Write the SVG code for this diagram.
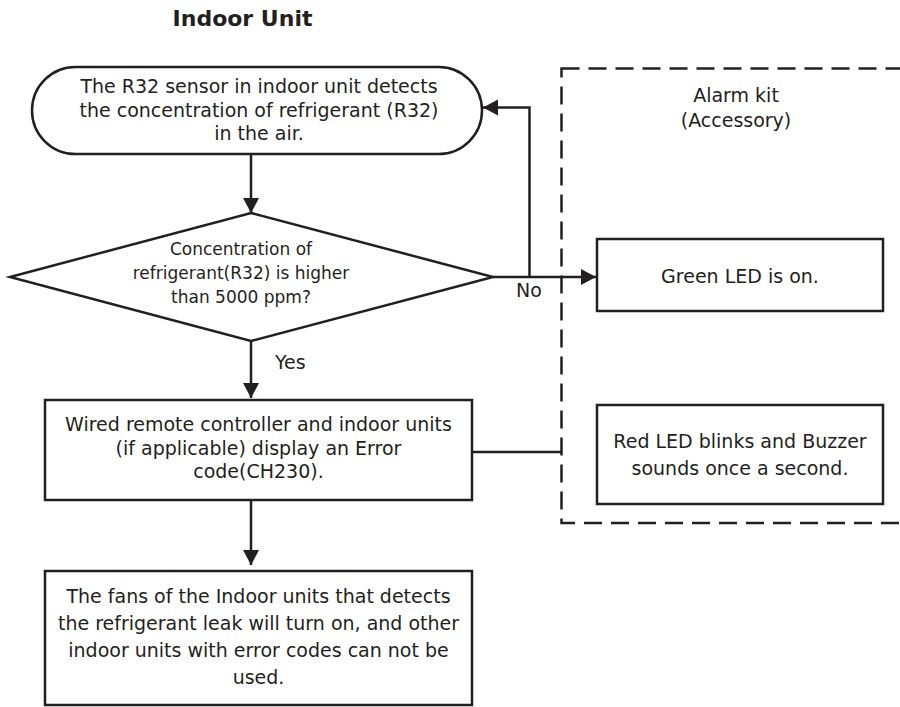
<svg xmlns="http://www.w3.org/2000/svg" width="900" height="707" viewBox="0 0 900 707">
<style>
  .shape { fill: #ffffff; stroke: #231f20; stroke-width: 2.5; }
  .line { fill: none; stroke: #231f20; stroke-width: 2.5; }
  .dash { fill: none; stroke: #231f20; stroke-width: 2.5; stroke-dasharray: 18 9; }
  text { font-family: "DejaVu Sans", "Liberation Sans", sans-serif; fill: #231f20; font-size: 19px; }
  .c { text-anchor: middle; }
  .title { font-weight: bold; font-size: 22px; }
  .small { font-size: 17px; }
</style>
<defs>
  <marker id="arrow" viewBox="0 0 15 16" refX="15" refY="8" markerWidth="15" markerHeight="16" markerUnits="userSpaceOnUse" orient="auto">
    <path d="M0,0 L15,8 L0,16 Z" fill="#231f20"/>
  </marker>
</defs>
<rect width="900" height="707" fill="#ffffff"/>

<text class="title c" x="242.5" y="26">Indoor Unit</text>

<g id="alarm-kit">
  <rect class="dash" x="561.5" y="68.5" width="360" height="454.5"/>
  <text class="c" x="736" y="102">Alarm kit</text>
  <text class="c" x="736" y="127">(Accessory)</text>
</g>

<g id="connectors">
  <line class="line" x1="251" y1="154" x2="251" y2="213" marker-end="url(#arrow)"/>
  <line class="line" x1="251" y1="341" x2="251" y2="398" marker-end="url(#arrow)"/>
  <line class="line" x1="251" y1="500" x2="251" y2="565" marker-end="url(#arrow)"/>
  <line class="line" x1="493" y1="277" x2="596" y2="277" marker-end="url(#arrow)"/>
  <polyline class="line" points="529.5,277 529.5,107.5 483,107.5" marker-end="url(#arrow)"/>
  <line class="line" x1="472" y1="452" x2="561.5" y2="452"/>
  <text x="516" y="297">No</text>
  <text x="275" y="369">Yes</text>
</g>

<g id="start">
  <rect class="shape" x="32" y="67" width="450" height="87" rx="43.5" ry="43.5"/>
  <text class="c" x="259" y="93">The R32 sensor in indoor unit detects</text>
  <text class="c" x="259" y="116.5">the concentration of refrigerant (R32)</text>
  <text class="c" x="259" y="140">in the air.</text>
</g>

<g id="decision">
  <polygon class="shape" points="251,213 493,277 251,341 10,277"/>
  <text class="c small" x="241" y="255">Concentration of</text>
  <text class="c small" x="241" y="279">refrigerant(R32) is higher</text>
  <text class="c small" x="241" y="303">than 5000 ppm?</text>
</g>

<g id="error-display">
  <rect class="shape" x="45" y="400" width="427" height="100"/>
  <text class="c" x="258.5" y="431">Wired remote controller and indoor units</text>
  <text class="c" x="258.5" y="455">(if applicable) display an Error</text>
  <text class="c" x="258.5" y="478">code(CH230).</text>
</g>

<g id="fans">
  <rect class="shape" x="45" y="571" width="427" height="134"/>
  <text class="c" x="258.5" y="603">The fans of the Indoor units that detects</text>
  <text class="c" x="258.5" y="630">the refrigerant leak will turn on, and other</text>
  <text class="c" x="258.5" y="657">indoor units with error codes can not be</text>
  <text class="c" x="258.5" y="684">used.</text>
</g>

<g id="green-led">
  <rect class="shape" x="597" y="239" width="286" height="72"/>
  <text class="c" x="740" y="283">Green LED is on.</text>
</g>

<g id="red-led">
  <rect class="shape" x="597" y="405" width="286" height="99"/>
  <text class="c" x="740" y="448">Red LED blinks and Buzzer</text>
  <text class="c" x="740" y="475">sounds once a second.</text>
</g>
</svg>
